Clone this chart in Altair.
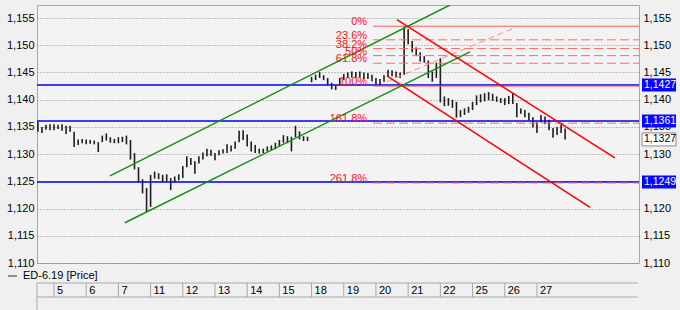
import altair as alt
import pandas as pd
import numpy as np

# ---------------- data ----------------
day_labels = ["5", "6", "7", "11", "12", "13", "14", "15", "18", "19", "20", "21", "22", "25", "26", "27"]
day_pos = list(range(16))

# intraday bars, 8 per day, first 4 belong to the previous session (from -0.5)
bar_lo = [
    1.1341, 1.1339, 1.1345, 1.1344,
    1.1344, 1.1346, 1.1343, 1.1337, 1.1341, 1.1313, 1.1317, 1.1320,
    1.1318, 1.1319, 1.1318, 1.1304, 1.1322, 1.1325, 1.1321, 1.1320,
    1.1320, 1.1322, 1.1318, 1.1290, 1.1272, 1.1248, 1.1228, 1.1194,
    1.1203, 1.1255, 1.1254, 1.1249, 1.1250, 1.1234, 1.1248, 1.1252,
    1.1256, 1.1276, 1.1280, 1.1264, 1.1283, 1.1290, 1.1296, 1.1297,
    1.1289, 1.1298, 1.1301, 1.1302, 1.1305, 1.1310, 1.1322, 1.1326,
    1.1314, 1.1305, 1.1302, 1.1301, 1.1302, 1.1305, 1.1307, 1.1309,
    1.1314, 1.1321, 1.1320, 1.1305, 1.1331, 1.1327, 1.1324, 1.1324,
    1.1432, 1.1436, 1.1440, 1.1436, 1.1427, 1.1419, 1.1418, 1.1427,
    1.1436, 1.1440, 1.1441, 1.1440, 1.1441, 1.1437, 1.1438, 1.1434,
    1.1428, 1.1427, 1.1433, 1.1442, 1.1443, 1.1441, 1.1440, 1.1446,
    1.1502, 1.1487, 1.1480, 1.1470, 1.1468, 1.1440, 1.1433, 1.1440,
    1.1395, 1.1388, 1.1389, 1.1385, 1.1367, 1.1368, 1.1372, 1.1376,
    1.1381, 1.1390, 1.1395, 1.1397, 1.1399, 1.1398, 1.1396, 1.1394,
    1.1390, 1.1392, 1.1392, 1.1368, 1.1374, 1.1368, 1.1362, 1.1349,
    1.1339, 1.1358, 1.1355, 1.1344, 1.1330, 1.1335, 1.1339, 1.1327,
]
bar_hi = [
    1.1359, 1.1350, 1.1354, 1.1355,
    1.1355, 1.1354, 1.1355, 1.1352, 1.1352, 1.1341, 1.1327, 1.1328,
    1.1327, 1.1326, 1.1325, 1.1322, 1.1334, 1.1338, 1.1331, 1.1328,
    1.1331, 1.1332, 1.1334, 1.1326, 1.1302, 1.1276, 1.1254, 1.1238,
    1.1262, 1.1268, 1.1265, 1.1262, 1.1263, 1.1256, 1.1259, 1.1263,
    1.1278, 1.1296, 1.1293, 1.1287, 1.1296, 1.1303, 1.1310, 1.1308,
    1.1302, 1.1307, 1.1309, 1.1318, 1.1316, 1.1323, 1.1343, 1.1344,
    1.1336, 1.1323, 1.1317, 1.1310, 1.1310, 1.1314, 1.1316, 1.1321,
    1.1326, 1.1335, 1.1333, 1.1332, 1.1352, 1.1342, 1.1333, 1.1332,
    1.1442, 1.1446, 1.1451, 1.1445, 1.1440, 1.1431, 1.1426, 1.1440,
    1.1447, 1.1450, 1.1452, 1.1451, 1.1452, 1.1450, 1.1449, 1.1446,
    1.1440, 1.1438, 1.1445, 1.1455, 1.1454, 1.1452, 1.1450, 1.1535,
    1.1530, 1.1508, 1.1496, 1.1487, 1.1480, 1.1472, 1.1452, 1.1468,
    1.1476, 1.1406, 1.1403, 1.1400, 1.1396, 1.1381, 1.1384, 1.1387,
    1.1396, 1.1408, 1.1410, 1.1412, 1.1414, 1.1411, 1.1406, 1.1403,
    1.1403, 1.1407, 1.1412, 1.1394, 1.1384, 1.1381, 1.1376, 1.1368,
    1.1359, 1.1372, 1.1369, 1.1363, 1.1348, 1.1350, 1.1354, 1.1347,
]
bar_time = -0.5 + 0.125 * np.arange(len(bar_lo))

# horizontal support/resistance levels (blue)
blue_levels = [1.1427, 1.1361, 1.1249]

# trend channels: start/end (time, price)
chan_name = ["gu", "gu", "gl", "gl", "ru", "ru", "rl", "rl"]
chan_t = [1.74, 12.30, 2.20, 12.92, 10.65, 17.42, 10.34, 16.65]
chan_p = [1.1260, 1.1574, 1.1174, 1.1488, 1.1547, 1.1293, 1.1444, 1.1202]

# Fibonacci retracement
fib_labels = ["0%", "23.6%", "38.2%", "50%", "61.8%", "100%", "161.8%", "261.8%"]
fib_levels = [1.1535, 1.1510, 1.1494, 1.1481, 1.1467, 1.1425, 1.1357, 1.1247]
fib_solid = [True, False, False, False, False, True, False, False]
fib_start, fib_end = 9.91, 18.17
fib_diag_t = [10.34, 14.38]
fib_diag_p = [1.1433, 1.1534]

# right-axis price boxes
box_values = [1.1427, 1.1361, 1.1249]
box_texts = ["1,1427", "1,1361", "1,1249"]
last_value, last_text = 1.1327, "1,1327"

legend_text = "ED-6.19 [Price]"

# ---------------- chart ----------------
FONT = "Liberation Sans"
xscale = alt.Scale(domain=[-0.528, 18.17], nice=False, zero=False)
yscale = alt.Scale(domain=[1.110, 1.1574], nice=False, zero=False)
ticks_y = [1.110, 1.115, 1.120, 1.125, 1.130, 1.135, 1.140, 1.145, 1.150, 1.155]
label_expr = "replace(format(datum.value, '.3f'), '.', ',')"

y_left = alt.Axis(orient="left", values=ticks_y, labelExpr=label_expr, grid=True,
                  gridDash=[1, 2], gridColor="#8a8a8a", ticks=False, domain=False,
                  labelPadding=3, title=None)
y_right = alt.Axis(orient="right", values=ticks_y, labelExpr=label_expr, grid=False,
                   ticks=False, domain=False, labelPadding=4, title=None)
x_axis = alt.Axis(values=day_pos, grid=True, gridDash=[1, 2], gridColor="#8a8a8a",
                  labels=False, ticks=False, domain=False, title=None)

bars = pd.DataFrame({"t": bar_time, "lo": bar_lo, "hi": bar_hi})
candles = alt.Chart(bars).mark_rule(color="#1e1e1e", strokeWidth=1.6).encode(
    x=alt.X("t:Q", scale=xscale, axis=x_axis),
    y=alt.Y("lo:Q", scale=yscale, axis=y_left),
    y2="hi:Q",
)

blue = alt.Chart(pd.DataFrame({"v": blue_levels})).mark_rule(
    color="#0000f0", strokeWidth=1.5
).encode(y=alt.Y("v:Q", scale=yscale, axis=y_right))

fib_df = pd.DataFrame({"lab": fib_labels, "v": fib_levels, "solid": fib_solid,
                       "x0": fib_start, "x1": fib_end})
fib_solid_l = alt.Chart(fib_df[fib_df.solid]).mark_rule(color="#ff5a5a", strokeWidth=1).encode(
    x=alt.X("x0:Q", scale=xscale, axis=None), x2="x1:Q",
    y=alt.Y("v:Q", scale=yscale, axis=None))
fib_dash_l = alt.Chart(fib_df[~fib_df.solid]).mark_rule(
    color="#ff6a6a", strokeWidth=1, strokeDash=[9, 4]).encode(
    x=alt.X("x0:Q", scale=xscale, axis=None), x2="x1:Q",
    y=alt.Y("v:Q", scale=yscale, axis=None))
fib_text = alt.Chart(fib_df).mark_text(
    align="right", baseline="bottom", dx=-6, dy=1, color="#f41414", opacity=1,
    font=FONT, fontSize=11).encode(
    x=alt.X("x0:Q", scale=xscale, axis=None),
    y=alt.Y("v:Q", scale=yscale, axis=None), text="lab:N")
fib_diag = alt.Chart(pd.DataFrame({"t": fib_diag_t, "p": fib_diag_p})).mark_line(
    color="#ff8a8a", strokeWidth=1, strokeDash=[6, 4]).encode(
    x=alt.X("t:Q", scale=xscale, axis=None), y=alt.Y("p:Q", scale=yscale, axis=None))

chan_df = pd.DataFrame({"name": chan_name, "t": chan_t, "p": chan_p})
channels = alt.Chart(chan_df).mark_line(strokeWidth=1.5, clip=True).encode(
    x=alt.X("t:Q", scale=xscale, axis=None),
    y=alt.Y("p:Q", scale=yscale, axis=None),
    detail="name:N",
    color=alt.Color("name:N", legend=None,
                    scale=alt.Scale(domain=["gu", "gl", "ru", "rl"],
                                    range=["#109010", "#109010", "#ff0000", "#ff0000"])),
)

box_df = pd.DataFrame({"v": box_values, "txt": box_texts})
box_shape = "M-1,-0.382L1,-0.382L1,0.382L-1,0.382Z"
boxes = alt.Chart(box_df).mark_point(shape=box_shape, size=1156, filled=True,
                                     fill="#0808ff", opacity=1, strokeWidth=0).encode(
    x=alt.value(622), y=alt.Y("v:Q", scale=yscale, axis=None))
box_txt = alt.Chart(box_df).mark_text(align="left", baseline="middle", color="white",
                                      font=FONT, fontSize=10.5).encode(
    x=alt.value(607), y=alt.Y("v:Q", scale=yscale, axis=None), text="txt:N")
last_df = pd.DataFrame({"v": [last_value], "txt": [last_text]})
last_box = alt.Chart(last_df).mark_point(shape=box_shape, size=1156, filled=True,
                                         fill="white", stroke="#8a8a8a", strokeWidth=1,
                                         opacity=1).encode(
    x=alt.value(622), y=alt.Y("v:Q", scale=yscale, axis=None))
last_txt = alt.Chart(last_df).mark_text(align="left", baseline="middle", color="black",
                                        font=FONT, fontSize=10.5).encode(
    x=alt.value(607), y=alt.Y("v:Q", scale=yscale, axis=None), text="txt:N")

# date strip below the plot
one = pd.DataFrame({"k": [0]})
days_df = pd.DataFrame({"d": day_pos, "lab": day_labels})
strip_sep = alt.Chart(days_df).mark_rule(color="#a8a8a8", strokeWidth=1).encode(
    x=alt.X("d:Q", scale=xscale, axis=None), y=alt.value(278), y2=alt.value(292))
strip_txt = alt.Chart(days_df).mark_text(align="left", baseline="middle", dx=3,
                                         font=FONT, fontSize=11, color="black").encode(
    x=alt.X("d:Q", scale=xscale, axis=None), y=alt.value(285.5), text="lab:N")
strip_top = alt.Chart(one).mark_rule(color="#a8a8a8").encode(
    x=alt.value(0), x2=alt.value(601), y=alt.value(278))
strip_bot = alt.Chart(one).mark_rule(color="#a8a8a8").encode(
    x=alt.value(0), x2=alt.value(601), y=alt.value(292))
strip_left = alt.Chart(one).mark_rule(color="#a8a8a8").encode(
    x=alt.value(0), y=alt.value(278), y2=alt.value(305))

legend_dash = alt.Chart(one).mark_rule(color="#303030", strokeWidth=1).encode(
    x=alt.value(-29), x2=alt.value(-20), y=alt.value(271))
legend_lbl = alt.Chart(pd.DataFrame({"txt": [legend_text]})).mark_text(
    align="left", baseline="middle", font=FONT, fontSize=11, color="black").encode(
    x=alt.value(-14), y=alt.value(271), text="txt:N")

chart = alt.layer(
    candles, blue, fib_solid_l, fib_dash_l, fib_diag, channels, fib_text,
    boxes, box_txt, last_box, last_txt,
    strip_top, strip_bot, strip_left, strip_sep, strip_txt, legend_dash, legend_lbl,
).resolve_axis(y="independent").properties(
    width=602, height=258, background="#f0f0f0",
    padding={"left": 37, "top": 5, "right": 41, "bottom": 47},
    autosize=alt.AutoSizeParams(type="none"),
).configure_view(fill="#f3f3f3", stroke="#a8a8a8").configure_axis(
    labelFont=FONT, labelFontSize=11, labelColor="black"
)

chart.save("out.html", embed_options={"renderer": "svg", "actions": False})
